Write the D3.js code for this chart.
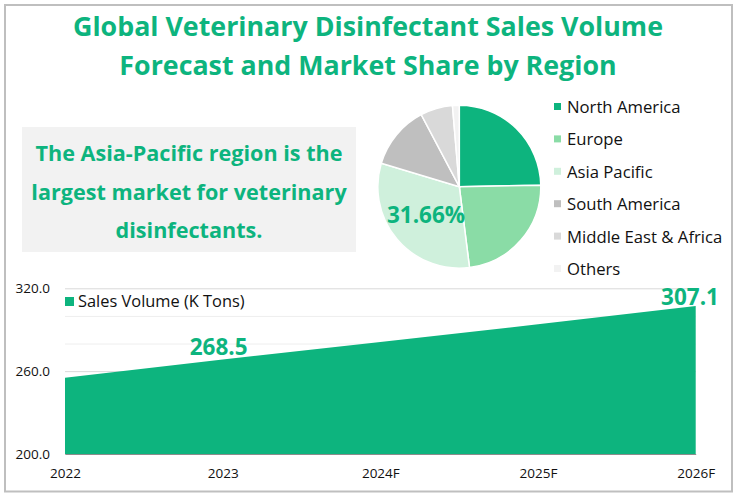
<!DOCTYPE html>
<html>
<head>
<meta charset="utf-8">
<script src="https://cdn.jsdelivr.net/npm/d3@7"></script>
<style>
	html, body { margin: 0; padding: 0; background: #fff; }
	svg { display: block; }
	text { font-family: "Open Sans", "Noto Sans", sans-serif; }
</style>
</head>
<body>
<svg id="chart" width="737" height="495"></svg>
<script>
// chart data
var titleLines = ['Global Veterinary Disinfectant Sales Volume', 'Forecast and Market Share by Region'];
var noteLines = ['The Asia-Pacific region is the', 'largest market for veterinary', 'disinfectants.'];
var regions = ['North America', 'Europe', 'Asia Pacific', 'South America', 'Middle East & Africa', 'Others'];
var shares = [24.7, 23.3, 31.66, 12.6, 6.4, 1.34];
var years = ['2022', '2023', '2024F', '2025F', '2026F'];
var volumes = [255.2, 268.5, 281.2, 293.9, 307.1];
var yTicks = [200, 260, 320];
var yMinorTicks = [280, 300];
var seriesName = 'Sales Volume (K Tons)';

var green = '#0db47e';
var regionColors = ['#0db47e', '#8adca6', '#cff0dc', '#bfbfbf', '#d9d9d9', '#f2f2f2'];

var svg = d3.select('#chart');

// outer frame
svg.append('rect')
	.attr('x', 5).attr('y', 5)
	.attr('width', 727).attr('height', 486.5)
	.attr('fill', '#fff')
	.attr('stroke', '#bfbfbf')
	.attr('stroke-width', 2);

// title
svg.selectAll('.title')
	.data(titleLines)
	.enter().append('text')
	.attr('class', 'title')
	.attr('x', 368)
	.attr('y', function(d, i) { return 36 + i * 39; })
	.attr('text-anchor', 'middle')
	.attr('font-size', 26.8)
	.attr('font-weight', 700)
	.attr('fill', green)
	.text(function(d) { return d; });

// call-out box
svg.append('rect')
	.attr('x', 22).attr('y', 127)
	.attr('width', 334).attr('height', 125)
	.attr('fill', '#f2f2f2');

svg.selectAll('.note')
	.data(noteLines)
	.enter().append('text')
	.attr('class', 'note')
	.attr('x', 189)
	.attr('y', function(d, i) { return 161 + i * 38.5; })
	.attr('text-anchor', 'middle')
	.attr('font-size', 21.6)
	.attr('font-weight', 700)
	.attr('fill', green)
	.text(function(d) { return d; });

// pie
var pieG = svg.append('g').attr('transform', 'translate(459.3,186.7)');
var pie = d3.pie().sort(null);
var arc = d3.arc().innerRadius(0).outerRadius(81.5);

pieG.selectAll('path')
	.data(pie(shares))
	.enter().append('path')
	.attr('d', arc)
	.attr('fill', function(d, i) { return regionColors[i]; })
	.attr('stroke', '#fff')
	.attr('stroke-width', 1.5);

svg.append('text')
	.attr('x', 426).attr('y', 223)
	.attr('text-anchor', 'middle')
	.attr('font-size', 22.5)
	.attr('font-weight', 700)
	.attr('fill', green)
	.text(d3.format('.2f')(shares[2]) + '%');

// pie legend
var legendY = d3.scalePoint().domain(regions).range([107, 269]);
var legend = svg.selectAll('.legend')
	.data(regions)
	.enter().append('g')
	.attr('class', 'legend')
	.attr('transform', function(d) { return 'translate(554,' + legendY(d) + ')'; });

legend.append('rect')
	.attr('y', -4)
	.attr('width', 7).attr('height', 7)
	.attr('fill', function(d, i) { return regionColors[i]; });

legend.append('text')
	.attr('x', 13)
	.attr('dy', '0.36em')
	.attr('font-size', 16.7)
	.attr('fill', '#111')
	.text(function(d) { return d; });

// area chart
var x = d3.scalePoint().domain(years).range([65, 695.7]);
var y = d3.scaleLinear().domain([200, 320]).range([454, 288.3]);

svg.append('g')
	.attr('transform', 'translate(65,0)')
	.call(d3.axisLeft(y).tickValues(yMinorTicks).tickSize(-630.7).tickFormat(''))
	.call(function(g) {
		g.select('.domain').remove();
		g.selectAll('line').attr('stroke', '#eeeeee');
	});

svg.append('g')
	.attr('transform', 'translate(65,0)')
	.call(d3.axisLeft(y).tickValues(yTicks).tickSize(-630.7).tickPadding(15).tickFormat(d3.format('.1f')))
	.call(function(g) {
		g.select('.domain').remove();
		g.selectAll('line').attr('stroke', '#d9d9d9');
		g.selectAll('text')
			.attr('font-family', '"Open Sans", "Noto Sans", sans-serif')
			.attr('font-size', 13.5)
			.attr('fill', '#111');
	});

var area = d3.area()
	.x(function(d, i) { return x(years[i]); })
	.y0(y(200))
	.y1(function(d) { return y(d); });

svg.append('path')
	.datum(volumes)
	.attr('d', area)
	.attr('fill', green);

svg.append('g')
	.attr('transform', 'translate(0,454)')
	.call(d3.axisBottom(x).tickSize(0).tickPadding(14))
	.call(function(g) {
		g.select('.domain').attr('stroke', '#8c8c8c');
		g.selectAll('text')
			.attr('font-family', '"Open Sans", "Noto Sans", sans-serif')
			.attr('font-size', 13.5)
			.attr('fill', '#111');
	});

// value labels, only the two shown in the reference
svg.append('text')
	.attr('x', x('2023') - 4).attr('y', 355)
	.attr('text-anchor', 'middle')
	.attr('font-size', 22.5)
	.attr('font-weight', 700)
	.attr('fill', green)
	.text(d3.format('.1f')(volumes[1]));

svg.append('text')
	.attr('x', 690).attr('y', 305)
	.attr('text-anchor', 'middle')
	.attr('font-size', 22.5)
	.attr('font-weight', 700)
	.attr('fill', green)
	.text(d3.format('.1f')(volumes[4]));

// area legend
svg.append('rect')
	.attr('x', 65).attr('y', 297)
	.attr('width', 9).attr('height', 9)
	.attr('fill', green);

svg.append('text')
	.attr('x', 78).attr('y', 301.5)
	.attr('dy', '0.36em')
	.attr('font-size', 16.4)
	.attr('fill', '#111')
	.text(seriesName);
</script>
</body>
</html>
